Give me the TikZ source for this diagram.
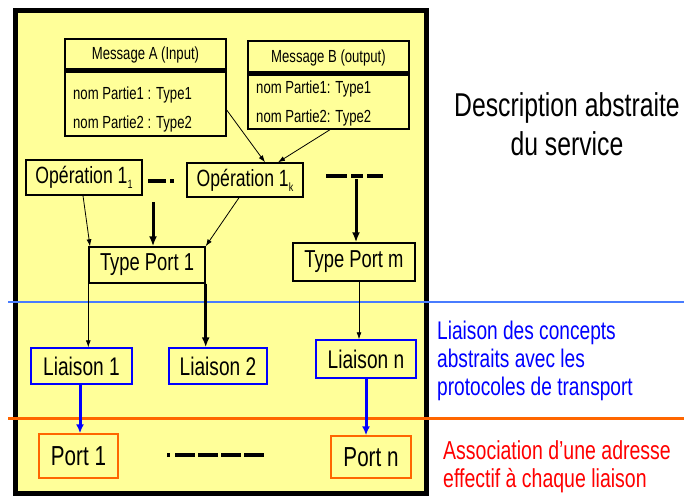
\documentclass[tikz,border=0pt]{standalone}
\usepackage{fontspec}
\setmainfont[FakeStretch=0.75]{Liberation Sans}
\usetikzlibrary{arrows.meta}
\definecolor{panel}{RGB}{255,255,153}
\definecolor{linkblue}{RGB}{0,0,255}
\definecolor{portorange}{RGB}{255,102,0}
\definecolor{sepblue}{RGB}{72,124,255}
\definecolor{seporange}{RGB}{255,102,0}
\definecolor{notered}{RGB}{255,0,0}
\tikzset{
  msgbox/.style={draw=black,line width=1.4pt,inner sep=0pt},
  opbox/.style={draw=black,line width=1.4pt,inner sep=0pt,font=\fontsize{23.5}{25}\selectfont},
  portbox/.style={draw=black,line width=1.4pt,inner sep=0pt,font=\fontsize{24.5}{26}\selectfont},
  linkbox/.style={draw=linkblue,line width=1.4pt,inner sep=0pt,font=\fontsize{25.5}{27}\selectfont},
  addrbox/.style={draw=portorange,line width=1.4pt,inner sep=0pt,font=\fontsize{27.5}{29}\selectfont},
  smalltext/.style={inner sep=0pt,font=\fontsize{17.5}{19}\selectfont},
  thinarrow/.style={line width=0.8pt,-{Latex[length=7pt,width=5pt]}},
  heavyarrow/.style={line width=3pt,-{Latex[length=10pt,width=8pt]}},
  bluearrow/.style={draw=linkblue,line width=3pt,-{Latex[length=9pt,width=8pt]}},
  heavydash/.style={line width=4.5pt},
}
\begin{document}
\begin{tikzpicture}[x=1pt,y=-1pt]
\useasboundingbox (0,0) rectangle (684,497);
\fill[white] (0,0) rectangle (684,497);

% yellow service panel
\draw[line width=5pt,fill=panel] (15.5,10.5) rectangle (426.5,493.5);

% layer separators
\draw[sepblue,line width=2pt] (8,302) -- (684,302);
\draw[seporange,line width=3pt] (8,418) -- (684,418);

% message A
\node[msgbox,minimum width=161pt,minimum height=97pt] (msgA) at (145.5,87.5) {};
\draw[line width=5pt] (msgA.west |- 0,70.5) -- (msgA.east |- 0,70.5);
\node[smalltext] (msgAh) at (145.5,55) {Message A (Input)};
\node[smalltext,anchor=west] (msgA1) at (73,95) {nom Partie1 : Type1};
\node[smalltext,anchor=west] (msgA2) at (73,124) {nom Partie2 : Type2};

% message B
\node[msgbox,minimum width=161pt,minimum height=88pt] (msgB) at (328.5,85) {};
\draw[line width=5pt] (msgB.west |- 0,73.5) -- (msgB.east |- 0,73.5);
\node[smalltext] (msgBh) at (328.5,58) {Message B (output)};
\node[smalltext,anchor=west] (msgB1) at (256,89) {nom Partie1: Type1};
\node[smalltext,anchor=west] (msgB2) at (256,118) {nom Partie2: Type2};

% operations
\node[opbox,minimum width=116pt,minimum height=35pt] (op1) at (84,177.5)
  {Opération 1\raisebox{-5pt}{\fontsize{12}{12}\selectfont 1}};
\node[opbox,minimum width=116pt,minimum height=34pt] (opk) at (245,180)
  {Opération 1\raisebox{-5pt}{\fontsize{12}{12}\selectfont k}};

% port types
\node[portbox,minimum width=116pt,minimum height=36pt] (tp1) at (147,265) {Type Port 1};
\node[portbox,minimum width=122pt,minimum height=38pt] (tpm) at (354,262) {Type Port m};

% bindings
\node[linkbox,minimum width=101pt,minimum height=36pt] (l1) at (81.5,366) {Liaison 1};
\node[linkbox,minimum width=98pt,minimum height=36pt] (l2) at (218,366) {Liaison 2};
\node[linkbox,minimum width=100pt,minimum height=38pt] (ln) at (366,359) {Liaison n};

% ports
\node[addrbox,minimum width=79pt,minimum height=44pt] (p1) at (78.5,456) {Port 1};
\node[addrbox,minimum width=80pt,minimum height=42pt] (pn) at (371,457) {Port n};

% ellipses between repeated elements
\draw[heavydash] (148,181) -- (166,181);
\draw[heavydash] (170,181) -- (174,181);
\draw[heavydash] (326,176) -- (347,176);
\draw[heavydash] (351,176) -- (363,176);
\draw[heavydash] (367,176) -- (383,176);
\draw[heavydash] (167,455) -- (170,455);
\draw[heavydash,dash pattern=on 20pt off 3pt] (175,455) -- (264,455);

% messages used by operation k
\draw[thinarrow] (msgA.east |- 0,110) -- (opk.north -| 265,0);
\draw[thinarrow] (msgB.south -| 330,0) -- (opk.north -| 278,0);

% operations grouped into port types
\coordinate (opmid) at (153,202);
\coordinate (opright) at (356,179);
\draw[thinarrow] (op1.south -| 83,0) -- (tp1.north -| 90,0);
\draw[heavyarrow] (opmid) -- (tp1.north -| opmid);
\draw[thinarrow] (opk.south -| 239,0) -- (tp1.north east);
\draw[heavyarrow] (opright) -- (tpm.north -| opright);

% port types bound to protocols
\draw[thinarrow] (tp1.south west) -- (l1.north -| tp1.south west);
\draw[heavyarrow] (tp1.south east) -- (l2.north -| tp1.south east);
\draw[thinarrow] (tpm.south -| 359,0) -- (ln.north -| 359,0);

% bindings given an address
\draw[bluearrow] (l1.south -| 80,0) -- (p1.north -| 80,0);
\draw[bluearrow] (ln.south) -- (pn.north -| ln.south);

% layer descriptions (base anchor sits on the last line)
\node[inner sep=0pt,align=center,font=\fontsize{33}{38}\selectfont,anchor=base] (desc) at (567,155)
  {Description abstraite\\du service};
\node[inner sep=0pt,align=left,text=linkblue,font=\fontsize{25.5}{28}\selectfont,anchor=base west] (bind) at (437,395)
  {Liaison des concepts\\abstraits avec les\\protocoles de transport};
\node[inner sep=0pt,align=left,text=notered,font=\fontsize{26}{28}\selectfont,anchor=base west] (addr) at (443,487)
  {Association d'une adresse\\effectif à chaque liaison};
\end{tikzpicture}
\end{document}
